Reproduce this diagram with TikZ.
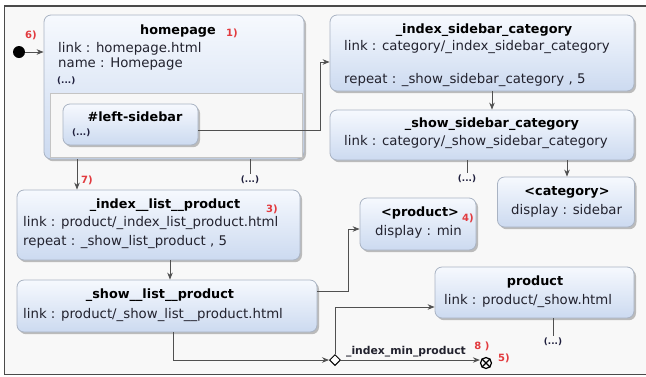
\documentclass[tikz,border=0pt]{standalone}
\usepackage{fontspec}
\setmainfont{DejaVu Sans}
\usetikzlibrary{shapes.geometric,shadows,arrows.meta,calc}
\definecolor{frameline}{HTML}{4A4A4A}
\definecolor{bgfill}{HTML}{F8F8F8}
\definecolor{boxline}{HTML}{A9B3C3}
\definecolor{boxtop}{HTML}{F6F9FE}
\definecolor{boxbot}{HTML}{CCDAF0}
\definecolor{panelline}{HTML}{C4C4C4}
\definecolor{panelfill}{HTML}{F7F7F7}
\definecolor{linec}{HTML}{505050}
\definecolor{txtc}{HTML}{22222E}
\definecolor{redc}{HTML}{E23A3E}
\definecolor{dotc}{HTML}{1E1E3C}
\newcommand\bodyf{\fontsize{13.3}{15}\selectfont}
\newcommand\titlef{\bfseries\fontsize{12.8}{15}\selectfont}
\tikzset{
  box/.style={rectangle, rounded corners=7pt, draw=boxline, line width=0.8pt,
    top color=boxtop, bottom color=boxbot, inner sep=0pt,
    drop shadow={shadow xshift=2pt, shadow yshift=-2.2pt, fill=black!50, opacity=0.5}},
  panelbox/.style={rectangle, draw=panelline, fill=panelfill, line width=0.8pt, inner sep=0pt},
  tx/.style={anchor=west, inner sep=0pt, font=\bodyf, text=txtc},
  ttl/.style={anchor=center, inner sep=0pt, font=\titlef, text=black},
  redlbl/.style={inner sep=0pt, font=\bfseries\fontsize{10}{12}\selectfont, text=redc},
  dotslbl/.style={inner sep=0pt, font=\bfseries\fontsize{8.8}{10}\selectfont, text=dotc},
  conn/.style={draw=linec, line width=0.9pt},
  arr/.style={conn, -{Stealth[length=7pt,width=5.5pt]}},
}
\begin{document}
\begin{tikzpicture}[x=1pt,y=-1pt]
\useasboundingbox (0,0) rectangle (646,376);
\fill[white] (0,0) rectangle (646,376);
\draw[draw=frameline, line width=1.1pt, fill=bgfill] (4.5,6) rectangle (660,374.5);

% boxes
\node[box, minimum width=260pt, minimum height=144pt] (home) at (174,87) {};
\node[panelbox, minimum width=252pt, minimum height=64pt] (panel) at (176,125) {};
\node[box, minimum width=135pt, minimum height=41pt] (lsb) at (130.5,124.5) {};
\node[box, minimum width=304pt, minimum height=76pt] (isc) at (482,53) {};
\node[box, minimum width=304pt, minimum height=50pt] (ssc) at (482,135) {};
\node[box, minimum width=283pt, minimum height=70pt] (ilp) at (158.5,225) {};
\node[box, minimum width=300pt, minimum height=52pt] (slp) at (167,306) {};
\node[box, minimum width=116pt, minimum height=52pt] (pmin) at (418,224) {};
\node[box, minimum width=137pt, minimum height=50pt] (cat) at (566,202) {};
\node[box, minimum width=199pt, minimum height=51pt] (prod) at (534.5,292.5) {};

% texts
\node[ttl] (t1) at (178,31) {homepage};
\node[redlbl] (r1) at (232,33) {1)};
\node[tx] (t1a) at (58,49) {link : homepage.html};
\node[tx] (t1b) at (58,64) {name : Homepage};
\node[dotslbl, anchor=west] (t1c) at (57,81) {(...)};

\node[ttl] (t2) at (135,117) {\#left-sidebar};
\node[dotslbl, anchor=west] (t2a) at (72,133) {(...)};

\node[ttl] (t3) at (484,30) {\_index\_sidebar\_category};
\node[tx] (t3a) at (344,47) {link : category/\_index\_sidebar\_category};
\node[tx] (t3b) at (344,80) {repeat : \_show\_sidebar\_category , 5};

\node[ttl] (t4) at (492,124) {\_show\_sidebar\_category};
\node[tx] (t4a) at (344,142) {link : category/\_show\_sidebar\_category};

\node[ttl] (t5) at (165,205) {\_index\_\_list\_\_product};
\node[redlbl] (r3) at (272,209) {3)};
\node[tx] (t5a) at (23,223) {link : product/\_index\_list\_product.html};
\node[tx] (t5b) at (23,242) {repeat : \_show\_list\_product , 5};

\node[ttl] (t6) at (160,295) {\_show\_\_list\_\_product};
\node[tx] (t6a) at (23,315) {link : product/\_show\_list\_\_product.html};

\node[ttl] (t7) at (420,213) {<product>};
\node[redlbl] (r4) at (468,218) {4)};
\node[tx] (t7a) at (375,232) {display : min};

\node[ttl] (t8) at (567,192) {<category>};
\node[tx] (t8a) at (511,211) {display : sidebar};

\node[ttl] (t9) at (535,282) {product};
\node[tx] (t9a) at (444,301) {link : product/\_show.html};

% start
\node[circle, fill=black, minimum size=12pt, inner sep=0pt] (start) at (19,52) {};
\node[redlbl] (r6) at (31,35) {6)};
\draw[arr] (start) -- (start -| home.west);

% left-sidebar -> index_sidebar_category
\coordinate (k1) at (320,0);
\draw[arr] ([yshift=-6pt]lsb.east) -| (k1 |- 0,62) -- (isc.west |- 0,62);

% homepage -> index_list_product
\coordinate (k7) at (77,0);
\draw[arr] (k7 |- home.south) -- (k7 |- ilp.north);
\node[redlbl] (r7) at (87,180) {7)};

% homepage stub
\node[dotslbl] (d1) at (250,180) {(...)};
\draw[conn] (d1.north |- home.south) -- ([yshift=2pt]d1.north);

% isc -> ssc
\coordinate (k2) at (492,0);
\draw[arr] (k2 |- isc.south) -- (k2 |- ssc.north);

% ssc stub
\node[dotslbl] (d2) at (467,179) {(...)};
\draw[conn] (d2.north |- ssc.south) -- ([yshift=2pt]d2.north);

% ssc -> category
\coordinate (k3) at (567,0);
\draw[arr] (k3 |- ssc.south) -- (k3 |- cat.north);

% ilp -> slp
\coordinate (k4) at (170,0);
\draw[arr] (k4 |- ilp.south) -- (k4 |- slp.north);

% slp -> <product>
\coordinate (k5) at (348,0);
\draw[arr] (slp.east |- 0,291) -| (k5 |- 0,229) -- (pmin.west |- 0,229);

% diamond and end
\node[diamond, draw=black, fill=white, line width=1pt, minimum size=11pt, inner sep=0pt] (dia) at (335,360) {};
\node[circle, draw=black, line width=1.2pt, minimum size=11pt, inner sep=0pt] (endx) at (486,363) {};
\draw[black, line width=1.1pt] (endx.north east) -- (endx.south west);
\draw[black, line width=1.1pt] (endx.north west) -- (endx.south east);

\coordinate (k6) at (173,0);
\draw[arr] (k6 |- slp.south) |- (dia.west);
\draw[arr] (dia.north) |- (prod.west |- 0,307);
\draw[arr] (dia.east) -- (endx.west |- dia.east);
\node[inner sep=0pt, font=\bfseries\fontsize{10.8}{12}\selectfont, text=txtc] (el) at (406,352) {\_index\_min\_product};
\node[redlbl] (r8) at (482,346) {8 )};
\node[redlbl] (r5) at (504,358) {5)};

% product stub
\node[dotslbl] (d3) at (553,342) {(...)};
\draw[conn] (d3.north |- prod.south) -- ([yshift=2pt]d3.north);
\end{tikzpicture}
\end{document}
